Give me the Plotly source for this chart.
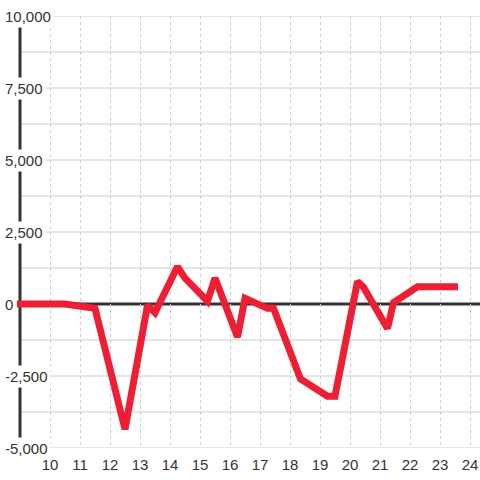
import plotly.graph_objects as go

# series
x_vals = [8.9, 10.5, 11.5, 12.5, 13.25, 13.5, 14.25, 14.5, 15.25, 15.5, 16.25, 16.5,
          17.25, 17.45, 18.35, 19.25, 19.5, 20.25, 20.45, 21.25, 21.45, 22.25, 23.6]
y_vals = [0, 0, -150, -4350, -50, -300, 1300, 900, 100, 900, -1150, 200,
          -150, -150, -2600, -3200, -3200, 780, 580, -850, 50, 600, 600]

x_ticks = list(range(10, 25))
y_grid = [-5000, -3750, -2500, -1250, 1250, 2500, 3750, 5000, 6250, 7500, 8750, 10000]
y_labels = [-5000, -2500, 0, 2500, 5000, 7500, 10000]

X_MIN, X_MAX = 9 - 20 / 30, 24 + 10 / 30
FONT = "Liberation Sans, Arial, sans-serif"

fig = go.Figure()

fig.add_trace(go.Scatter(
    x=x_vals,
    y=y_vals,
    mode="lines",
    line=dict(color="#ee1f35", width=7),
    hoverinfo="skip",
))

shapes = []
# horizontal grid lines, start at the axis line
for v in y_grid:
    shapes.append(dict(type="line", xref="x", yref="y", x0=9, x1=X_MAX, y0=v, y1=v,
                       line=dict(color="#cccccc", width=1), layer="below"))
# zero line
shapes.append(dict(type="line", xref="x", yref="y", x0=9, x1=X_MAX, y0=0, y1=0,
                   line=dict(color="#333333", width=3), layer="below"))
# y axis line
shapes.append(dict(type="line", xref="x", yref="y", x0=9, x1=9, y0=-5000, y1=10000,
                   line=dict(color="#333333", width=3), layer="below"))

annotations = []
for v in y_labels:
    annotations.append(dict(
        xref="paper", yref="y", x=2 / 480, y=v, xanchor="left", yanchor="middle",
        text=f"{v:,}", showarrow=False, bgcolor="white", borderpad=2,
        font=dict(family=FONT, size=15, color="#333333"),
    ))

fig.update_layout(
    width=480,
    height=480,
    margin=dict(l=0, r=0, t=16, b=32),
    paper_bgcolor="white",
    plot_bgcolor="white",
    showlegend=False,
    shapes=shapes,
    annotations=annotations,
    xaxis=dict(
        range=[X_MIN, X_MAX],
        tickvals=x_ticks,
        ticks="outside",
        ticklen=3,
        tickcolor="rgba(0,0,0,0)",
        showline=False,
        zeroline=False,
        showgrid=True,
        gridcolor="#cccccc",
        griddash="dot",
        gridwidth=1,
        tickfont=dict(family=FONT, size=15, color="#333333"),
    ),
    yaxis=dict(
        range=[-5000, 10000],
        showgrid=False,
        zeroline=False,
        showline=False,
        showticklabels=False,
    ),
)

# page body has a default margin, drop it so the figure sits at 0,0
fig.write_html("out.html", config={"displayModeBar": False},
               post_script="document.body.style.margin='0';")
